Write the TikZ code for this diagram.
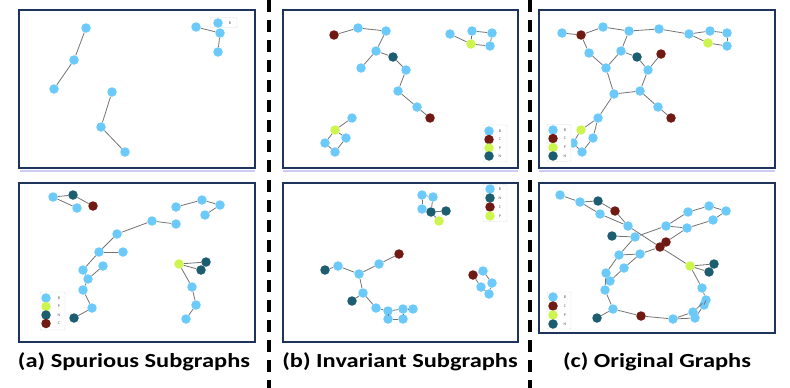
\documentclass[tikz,border=0pt]{standalone}
\usepackage{fontspec}
\setmainfont{Carlito}
\definecolor{atomb}{RGB}{108,202,250}
\definecolor{atomc}{RGB}{112,26,20}
\definecolor{atomp}{RGB}{204,245,78}
\definecolor{atomn}{RGB}{28,94,112}
\definecolor{panelline}{RGB}{30,52,92}
\begin{document}
\begin{tikzpicture}[x=1pt, y=-1pt,
    atom/.style={circle, inner sep=0pt, minimum size=9.5pt},
    atomB/.style={atom, fill=atomb},
    atomC/.style={atom, fill=atomc},
    atomP/.style={atom, fill=atomp},
    atomN/.style={atom, fill=atomn},
    bond/.style={draw=gray!90!black, line width=0.8pt},
    panelbox/.style={draw=panelline, line width=2.7pt},
    topline/.style={draw=gray!40!blue!25, line width=1.2pt},
    legbox/.style={draw=gray!25, fill=white, rounded corners=1pt, line width=0.4pt},
    legtext/.style={font=\fontsize{4}{4}\selectfont, text=gray!70!black, inner sep=0pt},
    sepline/.style={line width=3.4pt, dash pattern=on 12pt off 8pt},
    captext/.style={font=\fontsize{20}{22}\selectfont\bfseries, xscale=1.22, transform shape}]
\useasboundingbox (0,0) rectangle (790,388);
% separators
\draw[sepline] (269,0) -- (269,388);
\draw[sepline] (530,0) -- (530,388);
% panels
\draw[topline] (20,171) -- (255,171);
\draw[topline] (283,171) -- (518,171);
\draw[topline] (539,171) -- (775,171);
\draw[panelbox] (19,10) rectangle (255,168);
\draw[panelbox] (283,10) rectangle (518,168);
\draw[panelbox] (539,10) rectangle (775,168);
\draw[panelbox] (19,183) rectangle (255,342);
\draw[panelbox] (283,183) rectangle (518,342);
\draw[panelbox] (539,183) rectangle (775,333);

% (a) top
\node[legbox, minimum width=27pt, minimum height=10pt] (sleg) at (223.5,22.5) {};
\node[atomB] (sl1) at (218,23) {};
\node[legtext] (slt1) at (230,23) {B};
\node[atomB] (sa1) at (86,28) {};
\node[atomB] (sa2) at (74,60) {};
\node[atomB] (sa3) at (54,89) {};
\node[atomB] (sa4) at (112,92) {};
\node[atomB] (sa5) at (101,127) {};
\node[atomB] (sa6) at (125,152) {};
\node[atomB] (sa7) at (196,27) {};
\node[atomB] (sa8) at (220,33) {};
\node[atomB] (sa9) at (218,52) {};
\foreach \a/\b in {sa1/sa2, sa2/sa3, sa4/sa5, sa5/sa6, sa7/sa8, sa8/sa9}
  \draw[bond] (\a) -- (\b);

% (a) bottom
\node[atomB] (sb1) at (53,197) {};
\node[atomN] (sb2) at (73,195) {};
\node[atomB] (sb3) at (77,208) {};
\node[atomC] (sb4) at (93,206) {};
\node[atomB] (sb5) at (176,207) {};
\node[atomB] (sb6) at (202,200) {};
\node[atomB] (sb7) at (220,205) {};
\node[atomB] (sb8) at (205,215) {};
\node[atomB] (sb9) at (176,224) {};
\node[atomB] (sb10) at (152,221) {};
\node[atomB] (sb11) at (117,234) {};
\node[atomB] (sb12) at (99,252) {};
\node[atomB] (sb13) at (123,252) {};
\node[atomB] (sb14) at (83,270) {};
\node[atomB] (sb15) at (103,266) {};
\node[atomB] (sb16) at (88,279) {};
\node[atomB] (sb17) at (83,290) {};
\node[atomB] (sb18) at (92,308) {};
\node[atomN] (sb19) at (74,318) {};
\node[atomP] (sb20) at (179,264) {};
\node[atomN] (sb21) at (206,262) {};
\node[atomN] (sb22) at (201,270) {};
\node[atomB] (sb23) at (192,287) {};
\node[atomB] (sb24) at (196,305) {};
\node[atomB] (sb25) at (186,319) {};
\foreach \a/\b in {sb1/sb2, sb1/sb3, sb2/sb4, sb5/sb6, sb6/sb7, sb7/sb8,
    sb9/sb10, sb10/sb11, sb11/sb12, sb12/sb13, sb12/sb14, sb14/sb16, sb15/sb16,
    sb16/sb17, sb17/sb18, sb18/sb19, sb20/sb21, sb20/sb22, sb20/sb23, sb23/sb24, sb24/sb25}
  \draw[bond] (\a) -- (\b);
\node[legbox, minimum width=25pt, minimum height=38pt] (sbleg) at (52.5,311) {};
\node[atomB] (sbl1) at (46,298) {};
\node[atomP] (sbl2) at (46,306.5) {};
\node[atomN] (sbl3) at (46,315) {};
\node[atomC] (sbl4) at (46,323.5) {};
\node[legtext] (sblt1) at (59,298) {B};
\node[legtext] (sblt2) at (59,306.5) {P};
\node[legtext] (sblt3) at (59,315) {N};
\node[legtext] (sblt4) at (59,323.5) {C};

% (b) top
\node[atomC] (ia1) at (334,35) {};
\node[atomB] (ia2) at (358,28) {};
\node[atomB] (ia3) at (386,31) {};
\node[atomB] (ia4) at (376,51) {};
\node[atomN] (ia5) at (393,57) {};
\node[atomB] (ia6) at (361,68) {};
\node[atomB] (ia7) at (406,70) {};
\node[atomB] (ia8) at (398,91) {};
\node[atomB] (ia9) at (417,107) {};
\node[atomC] (ia10) at (430,118) {};
\node[atomB] (ia11) at (450,34) {};
\node[atomP] (ia12) at (471,44) {};
\node[atomB] (ia13) at (472,31) {};
\node[atomB] (ia14) at (492,33) {};
\node[atomB] (ia15) at (490,46) {};
\node[atomB] (ia16) at (352,118) {};
\node[atomP] (ia17) at (335,130) {};
\node[atomB] (ia18) at (325,143) {};
\node[atomB] (ia19) at (335,152) {};
\node[atomB] (ia20) at (346,138) {};
\foreach \a/\b in {ia1/ia2, ia2/ia3, ia3/ia4, ia4/ia5, ia4/ia6, ia5/ia7, ia7/ia8, ia8/ia9, ia9/ia10,
    ia11/ia12, ia12/ia13, ia13/ia14, ia14/ia15, ia15/ia12,
    ia16/ia17, ia17/ia18, ia18/ia19, ia19/ia20, ia20/ia17}
  \draw[bond] (\a) -- (\b);
\node[legbox, minimum width=24pt, minimum height=37pt] (ialeg) at (495,143.5) {};
\node[atomB] (ial1) at (489,131) {};
\node[atomC] (ial2) at (489,139.5) {};
\node[atomP] (ial3) at (489,148) {};
\node[atomN] (ial4) at (489,156) {};
\node[legtext] (ialt1) at (500,131) {B};
\node[legtext] (ialt2) at (500,139.5) {C};
\node[legtext] (ialt3) at (500,148) {P};
\node[legtext] (ialt4) at (500,156) {N};

% (b) bottom
\node[legbox, minimum width=24pt, minimum height=37pt] (ibleg) at (495,203) {};
\node[atomB] (ibl1) at (490,189) {};
\node[atomN] (ibl2) at (490,198) {};
\node[atomC] (ibl3) at (490,207) {};
\node[atomP] (ibl4) at (490,216) {};
\node[legtext] (iblt1) at (500,189) {B};
\node[legtext] (iblt2) at (500,198) {N};
\node[legtext] (iblt3) at (500,207) {C};
\node[legtext] (iblt4) at (500,216) {P};
\node[atomB] (ib1) at (422,195) {};
\node[atomB] (ib2) at (433,197) {};
\node[atomB] (ib3) at (422,209) {};
\node[atomN] (ib4) at (431,212) {};
\node[atomN] (ib5) at (446,211) {};
\node[atomP] (ib6) at (439,221) {};
\node[atomC] (ib7) at (399,254) {};
\node[atomB] (ib8) at (379,264) {};
\node[atomB] (ib9) at (359,274) {};
\node[atomB] (ib10) at (338,266) {};
\node[atomN] (ib11) at (325,270) {};
\node[atomB] (ib12) at (363,293) {};
\node[atomN] (ib13) at (352,301) {};
\node[atomB] (ib14) at (376,308) {};
\node[atomB] (ib15) at (388,311) {};
\node[atomB] (ib16) at (403,309) {};
\node[atomB] (ib17) at (413,309) {};
\node[atomB] (ib18) at (403,319) {};
\node[atomB] (ib19) at (388,319) {};
\node[atomC] (ib20) at (473,275) {};
\node[atomB] (ib21) at (483,271) {};
\node[atomB] (ib22) at (492,283) {};
\node[atomB] (ib23) at (481,287) {};
\node[atomB] (ib24) at (489,294) {};
\foreach \a/\b in {ib1/ib2, ib1/ib3, ib2/ib4, ib4/ib5, ib4/ib6,
    ib7/ib8, ib8/ib9, ib9/ib10, ib10/ib11, ib9/ib12, ib12/ib13, ib12/ib14, ib14/ib15,
    ib15/ib16, ib16/ib17, ib16/ib18, ib18/ib19, ib19/ib15,
    ib20/ib21, ib21/ib22, ib22/ib24, ib24/ib23, ib23/ib20}
  \draw[bond] (\a) -- (\b);

% (c) top
\node[atomB] (oa1) at (562,33) {};
\node[atomC] (oa2) at (581,35) {};
\node[atomB] (oa3) at (603,27) {};
\node[atomB] (oa4) at (629,31) {};
\node[atomB] (oa5) at (659,29) {};
\node[atomB] (oa6) at (689,34) {};
\node[atomB] (oa7) at (710,31) {};
\node[atomB] (oa8) at (727,33) {};
\node[atomB] (oa9) at (727,46) {};
\node[atomP] (oa10) at (708,43) {};
\node[atomB] (oa11) at (589,53) {};
\node[atomB] (oa12) at (621,51) {};
\node[atomN] (oa13) at (637,57) {};
\node[atomC] (oa14) at (661,54) {};
\node[atomB] (oa15) at (606,68) {};
\node[atomB] (oa16) at (648,70) {};
\node[atomB] (oa17) at (614,94) {};
\node[atomB] (oa18) at (640,91) {};
\node[atomB] (oa19) at (658,107) {};
\node[atomC] (oa20) at (671,118) {};
\node[atomB] (oa21) at (598,118) {};
\node[atomP] (oa22) at (581,130) {};
\node[atomB] (oa23) at (593,138) {};
\node[atomB] (oa24) at (573,143) {};
\node[atomB] (oa25) at (582,152) {};
\foreach \a/\b in {oa1/oa2, oa2/oa3, oa3/oa4, oa4/oa5, oa5/oa6, oa6/oa7, oa7/oa8, oa8/oa9,
    oa9/oa10, oa10/oa6, oa2/oa11, oa11/oa15, oa4/oa12, oa12/oa15, oa12/oa13, oa13/oa16,
    oa16/oa14, oa15/oa17, oa17/oa18, oa18/oa16, oa18/oa19, oa19/oa20, oa17/oa21,
    oa21/oa22, oa21/oa23, oa22/oa24, oa24/oa25, oa25/oa23}
  \draw[bond] (\a) -- (\b);
\node[legbox, minimum width=24pt, minimum height=37pt] (oaleg) at (559,143) {};
\node[atomB] (oal1) at (553,130) {};
\node[atomC] (oal2) at (553,138.5) {};
\node[atomP] (oal3) at (553,147.5) {};
\node[atomN] (oal4) at (553,156) {};
\node[legtext] (oalt1) at (565,130) {B};
\node[legtext] (oalt2) at (565,138.5) {C};
\node[legtext] (oalt3) at (565,147.5) {P};
\node[legtext] (oalt4) at (565,156) {N};

% (c) bottom
\node[atomB] (ob1) at (560,195) {};
\node[atomB] (ob2) at (580,202) {};
\node[atomN] (ob3) at (598,201) {};
\node[atomB] (ob4) at (600,214) {};
\node[atomC] (ob5) at (615,211) {};
\node[atomB] (ob6) at (628,226) {};
\node[atomN] (ob7) at (612,236) {};
\node[atomB] (ob8) at (635,237) {};
\node[atomC] (ob9) at (660,247) {};
\node[atomC] (ob10) at (666,242) {};
\node[atomB] (ob11) at (619,255) {};
\node[atomB] (ob12) at (640,254) {};
\node[atomB] (ob13) at (624,268) {};
\node[atomB] (ob14) at (606,273) {};
\node[atomB] (ob15) at (610,281) {};
\node[atomB] (ob16) at (605,290) {};
\node[atomB] (ob17) at (613,309) {};
\node[atomN] (ob18) at (597,318) {};
\node[atomC] (ob19) at (641,316) {};
\node[atomB] (ob20) at (666,226) {};
\node[atomB] (ob21) at (688,212) {};
\node[atomB] (ob22) at (709,206) {};
\node[atomB] (ob23) at (726,211) {};
\node[atomB] (ob24) at (713,220) {};
\node[atomB] (ob25) at (687,228) {};
\node[atomP] (ob26) at (690,266) {};
\node[atomN] (ob27) at (714,264) {};
\node[atomN] (ob28) at (709,272) {};
\node[atomB] (ob29) at (702,288) {};
\node[atomB] (ob30) at (706,300) {};
\node[atomB] (ob31) at (704,305) {};
\node[atomB] (ob32) at (693,312) {};
\node[atomB] (ob33) at (695,318) {};
\node[atomB] (ob34) at (673,319) {};
\foreach \a/\b in {ob1/ob2, ob2/ob3, ob2/ob4, ob3/ob5, ob4/ob6, ob5/ob6, ob6/ob9, ob9/ob26,
    ob7/ob8, ob8/ob20, ob8/ob11, ob11/ob12, ob12/ob9, ob11/ob14, ob12/ob13, ob13/ob15,
    ob14/ob16, ob16/ob17, ob17/ob18, ob17/ob19, ob19/ob34,
    ob20/ob21, ob21/ob22, ob22/ob23, ob23/ob24, ob24/ob25, ob25/ob20, ob25/ob10,
    ob26/ob27, ob26/ob28, ob26/ob29, ob29/ob30, ob30/ob31, ob30/ob32, ob31/ob33,
    ob32/ob34, ob33/ob34}
  \draw[bond] (\a) -- (\b);
\node[legbox, minimum width=24pt, minimum height=37pt] (obleg) at (559,310.5) {};
\node[atomB] (obl1) at (553,297) {};
\node[atomC] (obl2) at (553,306) {};
\node[atomP] (obl3) at (553,315) {};
\node[atomN] (obl4) at (553,324) {};
\node[legtext] (oblt1) at (565,297) {B};
\node[legtext] (oblt2) at (565,306) {C};
\node[legtext] (oblt3) at (565,315) {P};
\node[legtext] (oblt4) at (565,324) {N};

% captions
\node[captext] (capa) at (134,362) {(a) Spurious Subgraphs};
\node[captext] (capb) at (400,362) {(b) Invariant Subgraphs};
\node[captext] (capc) at (657,362) {(c) Original Graphs};
\end{tikzpicture}
\end{document}
